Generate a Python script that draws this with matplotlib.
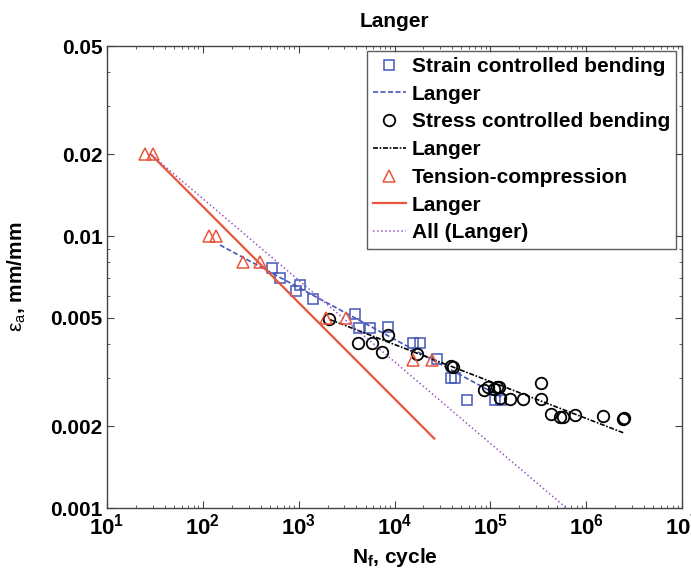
import math
import matplotlib
matplotlib.use("Agg")
import matplotlib.pyplot as plt
from matplotlib.ticker import FixedLocator, NullFormatter, LogLocator, FuncFormatter

plt.rcParams['font.family'] = ['Liberation Sans', 'DejaVu Sans']
plt.rcParams['mathtext.fontset'] = 'custom'
plt.rcParams['mathtext.rm'] = 'Liberation Sans'
plt.rcParams['mathtext.it'] = 'Liberation Sans:italic'
plt.rcParams['mathtext.bf'] = 'Liberation Sans:bold'

# ---- data ----
strain_N = [524, 640, 940, 1035, 1425, 3880, 4300, 5560, 8500, 15500, 18500,
            27600, 39000, 43000, 56900, 112000, 128000]
strain_eps = [0.0076, 0.0070, 0.0063, 0.0066, 0.00585, 0.00516, 0.00461, 0.00458,
              0.00464, 0.00403, 0.00403, 0.00352, 0.0030, 0.0030, 0.00249, 0.00249, 0.00249]

stress_N = [2090, 4200, 5790, 7370, 8500, 17100, 39000, 41000, 85000, 95000, 108000,
            117000, 122000, 126000, 161000, 218000, 339000, 339000, 431000, 536000,
            580000, 768000, 1.49e6, 2.42e6, 2.5e6]
stress_eps = [0.00494, 0.00405, 0.00405, 0.00376, 0.00432, 0.00368, 0.00333, 0.0033,
              0.00272, 0.00279, 0.00275, 0.00279, 0.00279, 0.00253, 0.00251, 0.00251,
              0.00289, 0.00251, 0.00222, 0.00216, 0.00216, 0.0022, 0.00218, 0.00212, 0.00215]

tension_N = [25, 30, 117, 137, 265, 395, 1950, 3100, 15500, 24600]
tension_eps = [0.02, 0.02, 0.01, 0.01, 0.008, 0.008, 0.005, 0.005, 0.0035, 0.0035]

strain_fit_N = [151, 130000]
strain_fit_eps = [0.00927, 0.00256]
stress_fit_N = [2090, 2450000]
stress_fit_eps = [0.00494, 0.00189]
tension_fit_N = [29, 26000]
tension_fit_eps = [0.0199, 0.0018]
all_fit_N = [29, 620000]
all_fit_eps = [0.0199, 0.001]

y_ticks = [0.001, 0.002, 0.005, 0.01, 0.02, 0.05]
y_ticklabels = ['0.001', '0.002', '0.005', '0.01', '0.02', '0.05']

blue = '#4457b8'
red = '#e8553a'
purple = '#9a55c0'
FS = 15

fig = plt.figure(figsize=(6.91, 5.68), dpi=100)
ax = fig.add_axes([107/691, 1-508/568, 575/691, 462/568])

ax.plot(strain_N, strain_eps, 's', ms=7.3, mfc='none', mec=blue, mew=1.1,
        label='Strain controlled bending')
ax.plot(strain_fit_N, strain_fit_eps, '--', color=blue, lw=1.2, dashes=(3, 1.5),
        label='Langer')
ax.plot(stress_N, stress_eps, 'o', ms=8.3, mfc='none', mec='black', mew=1.3,
        label='Stress controlled bending')
ax.plot(stress_fit_N, stress_fit_eps, '-.', color='black', lw=1.2,
        dashes=(3, 1, 1, 1), label='Langer')
ax.plot(tension_N, tension_eps, '^', ms=8.5, mfc='none', mec=red, mew=1.1,
        label='Tension-compression')
ax.plot(tension_fit_N, tension_fit_eps, '-', color=red, lw=1.6, label='Langer')
ax.plot(all_fit_N, all_fit_eps, ':', color=purple, lw=1.1, label='All (Langer)')

ax.set_xscale('log')
ax.set_yscale('log')
ax.set_xlim(10, 1e7)
ax.set_ylim(0.001, 0.05)

ax.xaxis.set_major_locator(LogLocator(base=10, numticks=10))
ax.xaxis.set_minor_locator(LogLocator(base=10, subs=range(2, 10), numticks=100))
ax.xaxis.set_major_formatter(FuncFormatter(
    lambda v, p: r'$\mathbf{10^{%d}}$' % round(math.log10(v))))
ax.xaxis.set_minor_formatter(NullFormatter())

ax.yaxis.set_major_locator(FixedLocator(y_ticks))
ax.yaxis.set_minor_locator(LogLocator(base=10, subs=range(2, 10), numticks=100))
ax.set_yticklabels(y_ticklabels)
ax.yaxis.set_minor_formatter(NullFormatter())

ax.tick_params(which='both', direction='in', top=True, right=True, color='#444444')
ax.tick_params(which='major', length=5, width=0.8, pad=3)
ax.tick_params(which='minor', length=2.5, width=0.6)
ax.tick_params(axis='y', labelsize=FS)
ax.tick_params(axis='x', labelsize=16, pad=4)
for lab in ax.get_yticklabels():
    lab.set_fontweight('bold')
for s in ax.spines.values():
    s.set_color('#444444')
    s.set_linewidth(1.0)

ax.set_title('Langer', fontsize=FS, fontweight='bold', pad=14)
ax.set_xlabel(r'$\mathbf{N_f}$, cycle', fontsize=FS, fontweight='bold')
ax.xaxis.set_label_coords(0.5, -0.082)
ax.set_ylabel(r'$\mathrm{\varepsilon_a}$, mm/mm', fontsize=FS, fontweight='bold')
ax.yaxis.set_label_coords(-0.138, 0.5)

leg = ax.legend(loc='upper right', bbox_to_anchor=(0.99, 0.99),
                prop={'weight': 'bold', 'size': FS, 'family': 'Liberation Sans'},
                frameon=True, fancybox=False, edgecolor='#333333',
                handlelength=1.55, handletextpad=0.3, borderpad=0.3,
                labelspacing=0.42, borderaxespad=0.0)
leg.get_frame().set_linewidth(1.0)

fig.savefig('out.png', dpi=100)
